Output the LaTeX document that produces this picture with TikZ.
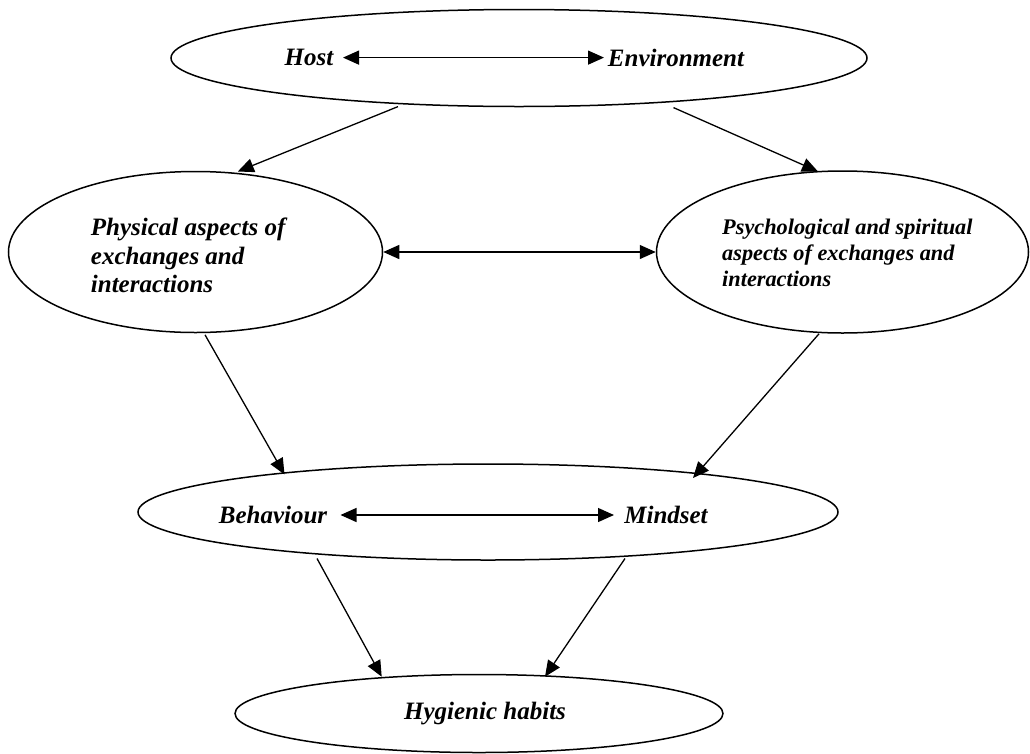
\documentclass[tikz,border=0pt]{standalone}
\usepackage{fontspec}
\setmainfont{Liberation Serif}
\usetikzlibrary{shapes.geometric,arrows.meta}
\begin{document}
\begin{tikzpicture}[x=1pt,y=-1pt,
  oval/.style={ellipse, draw, line width=1.5pt, inner sep=0pt},
  lbl/.style={font=\fontsize{25}{28.5}\selectfont\bfseries\itshape, inner sep=0pt},
  lbls/.style={font=\fontsize{22.3}{26}\selectfont\bfseries\itshape, inner sep=0pt},
  conn/.style={line width=1.3pt, -{Triangle[length=16pt,width=14pt]}},
  biconn/.style={line width=1.3pt, {Triangle[length=16pt,width=14pt]}-{Triangle[length=16pt,width=14pt]}}
]
\useasboundingbox (0,0) rectangle (1030,753);
% ellipses
\node[oval, minimum width=696, minimum height=97] (top) at (519,58) {};
\node[oval, minimum width=374, minimum height=161] (phys) at (195.5,252) {};
\node[oval, minimum width=372, minimum height=162] (psy) at (842.5,252) {};
\node[oval, minimum width=700, minimum height=96] (mid) at (488,512) {};
\node[oval, minimum width=488, minimum height=78] (hyg) at (479,713.5) {};
% texts
\node[lbl] (host) at (309,57.6) {Host};
\node[lbl] (env) at (676,57.6) {Environment};
\node[lbl, anchor=west, align=left] (physt) at (90.7,255.5) {Physical aspects of\\exchanges and\\interactions};
\node[lbls, anchor=west, align=left] (psyt) at (722,252.5) {Psychological and spiritual\\aspects of exchanges and\\interactions};
\node[lbl] (beh) at (273,515) {Behaviour};
\node[lbl] (mind) at (666,515) {Mindset};
\node[lbl] (hygt) at (485,714) {Hygienic habits};
% free ends
\coordinate (t1) at (398,106.6);
\coordinate (t1e) at (237.8,171.5);
\coordinate (t2) at (673.5,107.6);
\coordinate (t2e) at (818,171.5);
\coordinate (p1) at (205,334.8);
\coordinate (p1e) at (284.5,474.5);
\coordinate (q1) at (819,333.8);
\coordinate (q1e) at (693,478);
\coordinate (b1) at (317,558.5);
\coordinate (b1e) at (381.7,676.7);
\coordinate (m1) at (625,558.5);
\coordinate (m1e) at (545,676.7);
% connectors
\draw[biconn] (343,57.6) -- (604,57.6);
\draw[biconn] (phys.east) -- (psy.west);
\draw[biconn] (340.5,515) -- (614,515);
\draw[conn] (t1) -- (t1e);
\draw[conn] (t2) -- (t2e);
\draw[conn] (p1) -- (p1e);
\draw[conn] (q1) -- (q1e);
\draw[conn] (b1) -- (b1e);
\draw[conn] (m1) -- (m1e);
\end{tikzpicture}
\end{document}
